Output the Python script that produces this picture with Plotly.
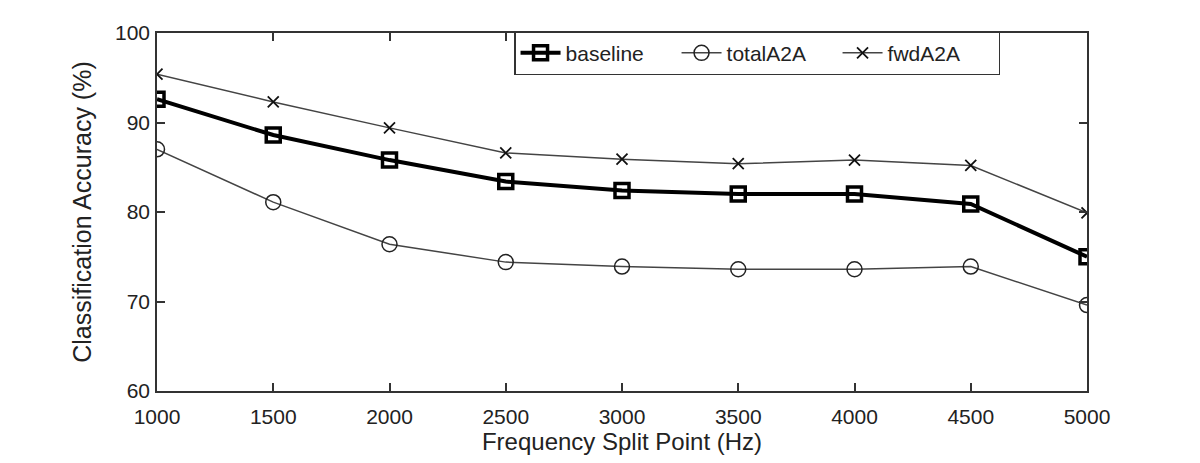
import plotly.graph_objects as go

split_points = [1000, 1500, 2000, 2500, 3000, 3500, 4000, 4500, 5000]
baseline = [92.6, 88.6, 85.8, 83.4, 82.4, 82.0, 82.0, 80.9, 75.0]
total_a2a = [87.0, 81.1, 76.4, 74.4, 73.9, 73.6, 73.6, 73.9, 69.6]
fwd_a2a = [95.4, 92.3, 89.4, 86.6, 85.9, 85.4, 85.8, 85.2, 79.9]

x_ticks = [1000, 1500, 2000, 2500, 3000, 3500, 4000, 4500, 5000]
y_ticks = [60, 70, 80, 90, 100]

font_family = "Liberation Sans, Arial, sans-serif"

fig = go.Figure()
fig.add_trace(go.Scatter(
    x=split_points, y=baseline, name="baseline", mode="lines+markers",
    line=dict(color="black", width=4),
    marker=dict(symbol="square-open", size=14, color="black", line=dict(width=3.5)),
))
fig.add_trace(go.Scatter(
    x=split_points, y=total_a2a, name="totalA2A", mode="lines+markers",
    line=dict(color="#444444", width=1.5),
    marker=dict(symbol="circle-open", size=15, color="#222222", line=dict(width=1.5)),
))
fig.add_trace(go.Scatter(
    x=split_points, y=fwd_a2a, name="fwdA2A", mode="lines+markers",
    line=dict(color="#444444", width=1.5),
    marker=dict(symbol="x-thin-open", size=11, color="#111111", line=dict(width=1.8)),
))

axis_common = dict(
    showline=True, linecolor="#333333", linewidth=1.5, mirror="ticks",
    ticks="inside", ticklen=8, tickcolor="#333333", tickwidth=1.5,
    showgrid=False, zeroline=False,
    tickfont=dict(family=font_family, size=21, color="#222222"),
)

fig.update_layout(
    width=1200, height=463,
    margin=dict(l=149, r=121, t=25, b=80),
    paper_bgcolor="white", plot_bgcolor="white",
    font=dict(family=font_family, color="#222222"),
    xaxis=dict(range=[1000, 5000], tickvals=x_ticks, ticklabelstandoff=6,
               title=dict(text="Frequency Split Point (Hz)", font=dict(size=24), standoff=4),
               **axis_common),
    yaxis=dict(range=[60, 100], tickvals=y_ticks, ticklabelstandoff=1,
               title=dict(text="Classification Accuracy (%)", font=dict(size=25), standoff=16),
               **axis_common),
    legend=dict(
        orientation="h", x=0.9065, xanchor="right", y=1.005, yanchor="top",
        bordercolor="#333333", borderwidth=1.5, bgcolor="white",
        font=dict(size=21, family=font_family, color="#222222"),
        itemwidth=40, entrywidth=106, entrywidthmode="pixels",
    ),
    showlegend=True,
)

fig.write_html("out.html")
